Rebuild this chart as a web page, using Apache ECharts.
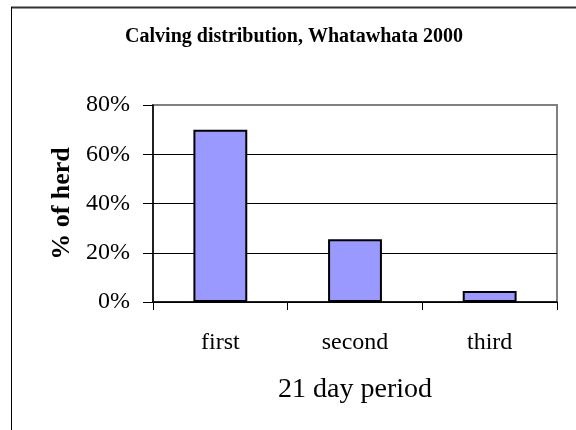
<!DOCTYPE html>
<html>
<head>
<meta charset="utf-8">
<script src="https://cdn.jsdelivr.net/npm/echarts@6/dist/echarts.min.js"></script>
<style>
  html, body { margin: 0; padding: 0; background: #fff; }
  #chart { width: 576px; height: 430px; }
</style>
</head>
<body>
<div id="chart"></div>
<script>
// Calving distribution by 21-day period
const periods = ['first', 'second', 'third'];
const herdShare = [70, 25.5, 4.5];
const yTicks = [0, 20, 40, 60, 80];

const serif = '"Liberation Serif", "Times New Roman", serif';
const chart = echarts.init(document.getElementById('chart'));

chart.setOption({
  backgroundColor: '#fff',
  animation: false,
  title: {
    text: 'Calving distribution, Whatawhata 2000',
    left: 289,
    textAlign: 'center',
    top: 22,
    textStyle: { fontFamily: serif, fontSize: 20, fontWeight: 'bold', color: '#000' }
  },
  graphic: [
    { type: 'line', shape: { x1: 11, y1: 7.5, x2: 576, y2: 7.5 }, style: { stroke: '#333', lineWidth: 2 } },
    { type: 'line', shape: { x1: 11.5, y1: 7, x2: 11.5, y2: 430 }, style: { stroke: '#000', lineWidth: 1 } }
  ],
  grid: {
    left: 153, top: 105, right: 19, bottom: 128,
    show: true, borderColor: '#808080', borderWidth: 2, backgroundColor: '#fff'
  },
  xAxis: {
    type: 'category',
    data: periods,
    name: '21 day period',
    nameLocation: 'middle',
    nameGap: 74,
    nameTextStyle: { fontFamily: serif, fontSize: 28, color: '#000' },
    axisLine: { lineStyle: { color: '#000', width: 1.5 } },
    axisTick: { show: true, length: 8, lineStyle: { color: '#000' } },
    axisLabel: { fontFamily: serif, fontSize: 24, color: '#000', margin: 29 }
  },
  yAxis: {
    type: 'value',
    min: yTicks[0],
    max: yTicks[yTicks.length - 1],
    interval: 20,
    name: '% of herd',
    nameLocation: 'middle',
    nameRotate: 90,
    nameGap: 77,
    nameTextStyle: { fontFamily: serif, fontSize: 26, fontWeight: 'bold', color: '#000' },
    axisLine: { show: true, lineStyle: { color: '#000', width: 1.5 } },
    axisTick: { show: true, length: 10, lineStyle: { color: '#000' } },
    axisLabel: { fontFamily: serif, fontSize: 24, color: '#000', margin: 23, formatter: '{value}%' },
    splitLine: { show: true, lineStyle: { color: ['#000', '#000', '#000', '#000', 'transparent'], width: 1 } }
  },
  series: [{
    type: 'bar',
    data: herdShare,
    barWidth: '40%',
    itemStyle: { color: '#9999FF', borderColor: '#000', borderWidth: 2 }
  }]
});
</script>
</body>
</html>
